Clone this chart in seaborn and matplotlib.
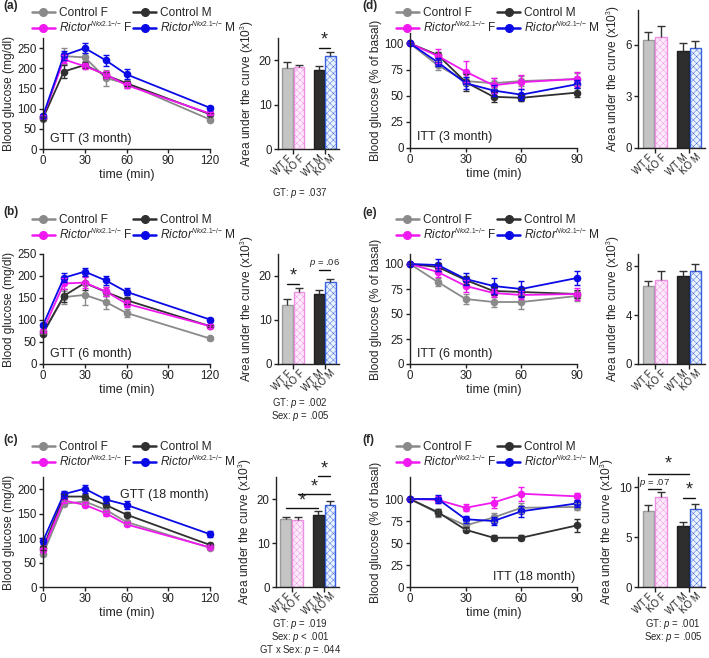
import numpy as np
import pandas as pd
import matplotlib
matplotlib.use("Agg")
import matplotlib.pyplot as plt
from matplotlib.lines import Line2D
import seaborn as sns

try:
    import matplotlib._mathtext as _mt
    _mt.SHRINK_FACTOR = 0.55
except Exception:
    pass

sns.set_theme(style="ticks")
plt.rcParams['font.family'] = ['Liberation Sans', 'DejaVu Sans']
plt.rcParams['mathtext.fontset'] = 'custom'
plt.rcParams['mathtext.rm'] = 'Liberation Sans'
plt.rcParams['mathtext.it'] = 'Liberation Sans:italic'
plt.rcParams['mathtext.bf'] = 'Liberation Sans:bold'
plt.rcParams['axes.linewidth'] = 1.0
plt.rcParams['axes.edgecolor'] = '#222222'
plt.rcParams['xtick.color'] = '#222222'
plt.rcParams['ytick.color'] = '#222222'
plt.rcParams['hatch.linewidth'] = 0.3

# ---------------- data ----------------
groups = ["Control F", "Control M", "KO F", "KO M"]
colors = {"Control F": "#8a8a8a", "Control M": "#303030", "KO F": "#f01af0", "KO M": "#0a0ae6"}
legend_labels = ["Control F", "Control M",
                 r"$\mathit{Rictor}^{\mathit{Nkx2.1{-}/{-}}}$ F",
                 r"$\mathit{Rictor}^{\mathit{Nkx2.1{-}/{-}}}$ M"]

gtt_time = [0, 15, 30, 45, 60, 120]
itt_time = [0, 15, 30, 45, 60, 90]

# GTT 3 month
gtt3_ctrl_f = [75, 230, 227, 176, 162, 73]
gtt3_ctrl_m = [76, 192, 208, 183, 163, 86]
gtt3_ko_f = [80, 222, 205, 185, 158, 88]
gtt3_ko_m = [82, 232, 250, 220, 185, 102]
gtt3_err_ctrl_f = [4, 20, 10, 20, 10, 4]
gtt3_err_ctrl_m = [4, 15, 8, 8, 6, 4]
gtt3_err_ko_f = [4, 10, 8, 8, 8, 4]
gtt3_err_ko_m = [5, 12, 12, 14, 12, 4]

# GTT 6 month
gtt6_ctrl_f = [73, 152, 157, 141, 116, 58]
gtt6_ctrl_m = [69, 155, 184, 164, 145, 86]
gtt6_ko_f = [76, 183, 185, 165, 137, 86]
gtt6_ko_m = [88, 196, 210, 190, 164, 101]
gtt6_err_ctrl_f = [4, 15, 22, 15, 10, 3]
gtt6_err_ctrl_m = [4, 15, 15, 10, 8, 3]
gtt6_err_ko_f = [4, 12, 12, 10, 8, 4]
gtt6_err_ko_m = [5, 10, 9, 10, 8, 4]

# GTT 18 month
gtt18_ctrl_f = [67, 170, 175, 158, 133, 80]
gtt18_ctrl_m = [80, 185, 185, 168, 148, 86]
gtt18_ko_f = [76, 177, 168, 151, 128, 81]
gtt18_ko_m = [94, 190, 201, 179, 168, 108]
gtt18_err_ctrl_f = [4, 5, 5, 5, 4, 3]
gtt18_err_ctrl_m = [4, 5, 5, 5, 5, 3]
gtt18_err_ko_f = [4, 5, 5, 5, 4, 3]
gtt18_err_ko_m = [6, 7, 8, 7, 8, 6]

# ITT 3 month
itt3_ctrl_f = [100, 79, 64, 62, 64, 66]
itt3_ctrl_m = [100, 89, 63, 49, 48, 53]
itt3_ko_f = [100, 88, 73, 60, 63, 66]
itt3_ko_m = [100, 82, 62, 55, 51, 61]
itt3_err_ctrl_f = [0, 4, 4, 5, 5, 6]
itt3_err_ctrl_m = [0, 3, 8, 5, 3, 4]
itt3_err_ko_f = [0, 7, 10, 7, 7, 7]
itt3_err_ko_m = [0, 4, 6, 5, 5, 4]

# ITT 6 month
itt6_ctrl_f = [100, 82, 65, 62, 62, 68]
itt6_ctrl_m = [100, 97, 84, 73, 72, 70]
itt6_ko_f = [100, 92, 78, 71, 69, 70]
itt6_ko_m = [100, 99, 85, 78, 75, 86]
itt6_err_ctrl_f = [0, 4, 5, 5, 7, 5]
itt6_err_ctrl_m = [0, 4, 4, 4, 4, 4]
itt6_err_ko_f = [0, 5, 6, 4, 4, 6]
itt6_err_ko_m = [0, 6, 6, 8, 8, 7]

# ITT 18 month
itt18_ctrl_f = [100, 84, 70, 79, 90, 91]
itt18_ctrl_m = [100, 85, 65, 56, 56, 70]
itt18_ko_f = [100, 99, 90, 96, 106, 103]
itt18_ko_m = [100, 100, 77, 75, 86, 95]
itt18_err_ctrl_f = [0, 5, 4, 5, 6, 4]
itt18_err_ctrl_m = [0, 4, 3, 3, 3, 7]
itt18_err_ko_f = [0, 4, 4, 6, 8, 4]
itt18_err_ko_m = [0, 5, 4, 5, 6, 4]

# AUC bars (order: WT F, KO F, WT M, KO M)
bar_labels = ["WT F", "KO F", "WT M", "KO M"]
auc_a = [18.2, 18.4, 17.9, 21.0]
auc_a_err = [1.3, 0.5, 0.9, 0.8]
auc_b = [13.4, 16.3, 15.9, 18.7]
auc_b_err = [1.3, 0.9, 0.9, 0.6]
auc_c = [15.4, 15.2, 16.4, 18.6]
auc_c_err = [0.6, 0.6, 0.9, 0.9]
auc_d = [6.24, 6.45, 5.65, 5.80]
auc_d_err = [0.46, 0.6, 0.45, 0.4]
auc_e = [6.35, 6.9, 7.18, 7.64]
auc_e_err = [0.42, 0.7, 0.42, 0.56]
auc_f = [7.64, 9.0, 6.06, 7.85]
auc_f_err = [0.56, 0.5, 0.4, 0.45]

stats_a = [r"GT: $\mathit{p}$ = .037"]
stats_b = [r"GT: $\mathit{p}$ = .002", r"Sex: $\mathit{p}$ = .005"]
stats_c = [r"GT: $\mathit{p}$ = .019", r"Sex: $\mathit{p}$ < .001", r"GT x Sex: $\mathit{p}$ = .044"]
stats_f = [r"GT: $\mathit{p}$ = .001", r"Sex: $\mathit{p}$ = .005"]

bar_pos = [0, 1, 2.74, 3.74]
bar_face = ["#c4c4c4", "#fdeafa", "#2e2e2e", "#e8f3fc"]
bar_edge = ["#9a9a9a", "#ec90e4", "#1e1e1e", "#3a5ee0"]
bar_hatchcol = [None, "#f6b8ef", None, "#a9c8f0"]
bar_hatch = [None, "xxxxx", None, "xxxxx"]

W, H = 709, 658
fig = plt.figure(figsize=(W / 100, H / 100), dpi=100)


def rect(l, t, r, b):
    return [l / W, 1 - b / H, (r - l) / W, (b - t) / H]


def fx(px):
    return px / W


def fy(py):
    return 1 - py / H


def line_panel(r, times, series, errs, xlim, xticks, ylim, yticks, ylabel, label_txt, label_xy, label_ha):
    ax = fig.add_axes(rect(*r))
    rows = []
    for g, vals in zip(groups, series):
        for t, v in zip(times, vals):
            rows.append({"time": t, "value": v, "group": g})
    df = pd.DataFrame(rows)
    sns.lineplot(data=df, x="time", y="value", hue="group", hue_order=groups,
                 palette=colors, marker="o", markersize=5.5, markeredgewidth=0,
                 linewidth=1.3, errorbar=None, legend=False, ax=ax, clip_on=False)
    for g, vals, e in zip(groups, series, errs):
        ax.errorbar(times, vals, yerr=e, fmt="none", ecolor=colors[g], elinewidth=1.0,
                    capsize=2.2, capthick=1.0, clip_on=False)
    ax.set_xlim(*xlim)
    ax.set_ylim(*ylim)
    ax.set_xticks(xticks)
    ax.set_yticks(yticks)
    ax.tick_params(labelsize=8.3, length=3, width=1.0, pad=1.5)
    ax.set_xlabel("time (min)", fontsize=9, labelpad=1)
    ax.set_ylabel(ylabel, fontsize=8.6, labelpad=2)
    sns.despine(ax=ax)
    ax.text(label_xy[0], label_xy[1], label_txt, transform=ax.transAxes, fontsize=9,
            ha=label_ha, va="bottom", color="#222222")
    return ax


def add_legend(ax, x_px, y_px):
    handles = [Line2D([], [], color=colors[g], marker="o", markersize=5.5, lw=1.8) for g in groups]
    order = [0, 2, 1, 3]
    leg = ax.legend([handles[i] for i in order], [legend_labels[i] for i in order],
                    ncol=2, loc="upper left", bbox_to_anchor=(fx(x_px), fy(y_px)),
                    bbox_transform=fig.transFigure, frameon=False, fontsize=8.6,
                    handlelength=1.9, handletextpad=0.35, columnspacing=0.05,
                    labelspacing=0.15, borderaxespad=0, borderpad=0)
    return leg


def bar_panel(r, vals, errs, ylim, yticks):
    ax = fig.add_axes(rect(*r))
    df = pd.DataFrame({"pos": bar_pos, "auc": vals, "label": bar_labels})
    sns.barplot(data=df, x="pos", y="auc", hue="label", hue_order=bar_labels,
                palette=dict(zip(bar_labels, bar_face)), native_scale=True,
                width=0.92, dodge=False, errorbar=None, legend=False, ax=ax)
    for p in ax.patches:
        cx = p.get_x() + p.get_width() / 2
        i = int(np.argmin(np.abs(np.array(bar_pos) - cx)))
        p.set_facecolor(bar_face[i])
        p.set_edgecolor(bar_edge[i])
        p.set_linewidth(1.0)
        if bar_hatch[i]:
            p.set_hatch(bar_hatch[i])
            try:
                p.set_hatchcolor(bar_hatchcol[i])
            except Exception:
                pass
    eb = ax.errorbar(bar_pos, vals, yerr=[np.zeros(4), errs], fmt="none",
                     ecolor="#333333", elinewidth=1.0, capsize=3, capthick=1.0)
    eb[1][0].set_visible(False)
    ax.set_xlim(-0.83, 4.5)
    ax.set_ylim(*ylim)
    ax.set_yticks(yticks)
    ax.set_xticks([0.5, 3.24])
    ax.set_xticklabels(["", ""])
    ax.set_xticks(bar_pos, minor=True)
    ax.set_xticklabels(bar_labels, minor=True, rotation=45, ha="right",
                       rotation_mode="anchor", fontsize=7.0)
    ax.tick_params(axis="x", which="minor", length=0, pad=3)
    ax.tick_params(axis="x", which="major", length=3.5, width=1.0)
    ax.tick_params(axis="y", labelsize=8.3, length=3, width=1.0, pad=1.5)
    ax.set_xlabel("")
    ax.set_ylabel(r"Area under the curve (x10$^{3}$)", fontsize=8.6, labelpad=2)
    sns.despine(ax=ax)
    return ax


def sig(ax, x1, x2, y, txt, ty, fs=13, small=False):
    ax.plot([x1, x2], [y, y], color="#111111", lw=1.0, clip_on=False)
    ax.text((x1 + x2) / 2, ty, txt, ha="center", va="center",
            fontsize=(6.8 if small else fs), clip_on=False)


def stats(x_px, y_first_px, lines, step=13):
    for k, s in enumerate(lines):
        fig.text(fx(x_px), fy(y_first_px + k * step), s, ha="center", va="center",
                 fontsize=6.9)


# ---------------- left column: GTT ----------------
ax = line_panel((43, 38, 210, 149), gtt_time, [gtt3_ctrl_f, gtt3_ctrl_m, gtt3_ko_f, gtt3_ko_m],
                [gtt3_err_ctrl_f, gtt3_err_ctrl_m, gtt3_err_ko_f, gtt3_err_ko_m],
                (0, 120), [0, 30, 60, 90, 120], (0, 275), [0, 50, 100, 150, 200, 250],
                "Blood glucose (mg/dl)", "GTT (3 month)", (0.04, 0.04), "left")
add_legend(ax, 32, 7)

ax = line_panel((43, 254, 210, 364), gtt_time, [gtt6_ctrl_f, gtt6_ctrl_m, gtt6_ko_f, gtt6_ko_m],
                [gtt6_err_ctrl_f, gtt6_err_ctrl_m, gtt6_err_ko_f, gtt6_err_ko_m],
                (0, 120), [0, 30, 60, 90, 120], (0, 250), [0, 50, 100, 150, 200, 250],
                "Blood glucose (mg/dl)", "GTT (6 month)", (0.04, 0.04), "left")
add_legend(ax, 32, 214)

ax = line_panel((43, 477, 210, 587), gtt_time, [gtt18_ctrl_f, gtt18_ctrl_m, gtt18_ko_f, gtt18_ko_m],
                [gtt18_err_ctrl_f, gtt18_err_ctrl_m, gtt18_err_ko_f, gtt18_err_ko_m],
                (0, 120), [0, 30, 60, 90, 120], (0, 225), [0, 50, 100, 150, 200],
                "Blood glucose (mg/dl)", "GTT (18 month)", (0.99, 0.78), "right")
add_legend(ax, 32, 441)

# ---------------- right column: ITT ----------------
ax = line_panel((410, 33, 577, 148), itt_time, [itt3_ctrl_f, itt3_ctrl_m, itt3_ko_f, itt3_ko_m],
                [itt3_err_ctrl_f, itt3_err_ctrl_m, itt3_err_ko_f, itt3_err_ko_m],
                (0, 90), [0, 30, 60, 90], (0, 110), [0, 25, 50, 75, 100],
                "Blood glucose (% of basal)", "ITT (3 month)", (0.04, 0.04), "left")
add_legend(ax, 396, 7)

ax = line_panel((410, 254, 577, 364), itt_time, [itt6_ctrl_f, itt6_ctrl_m, itt6_ko_f, itt6_ko_m],
                [itt6_err_ctrl_f, itt6_err_ctrl_m, itt6_err_ko_f, itt6_err_ko_m],
                (0, 90), [0, 30, 60, 90], (0, 110), [0, 25, 50, 75, 100],
                "Blood glucose (% of basal)", "ITT (6 month)", (0.04, 0.04), "left")
add_legend(ax, 396, 214)

ax = line_panel((410, 477, 577, 587), itt_time, [itt18_ctrl_f, itt18_ctrl_m, itt18_ko_f, itt18_ko_m],
                [itt18_err_ctrl_f, itt18_err_ctrl_m, itt18_err_ko_f, itt18_err_ko_m],
                (0, 90), [0, 30, 60, 90], (0, 125), [0, 25, 50, 75, 100],
                "Blood glucose (% of basal)", "ITT (18 month)", (0.99, 0.04), "right")
add_legend(ax, 396, 441)

# ---------------- bar panels ----------------
bx = bar_panel((278, 38, 339, 149), auc_a, auc_a_err, (0, 25), [0, 10, 20])
sig(bx, 2.74, 3.74, 22.8, "*", 24.6)
stats(300, 193, stats_a)

bx = bar_panel((278, 254, 339, 364), auc_b, auc_b_err, (0, 25), [0, 10, 20])
sig(bx, 0, 1, 18.2, "*", 20.0)
sig(bx, 2.74, 3.74, 21.4, r"$\mathit{p}$ = .06", 22.9, small=True)
stats(300, 403, stats_b)

bx = bar_panel((276, 477, 339, 587), auc_c, auc_c_err, (0, 25), [0, 10, 20])
sig(bx, 0, 2.74, 18.0, "*", 19.6)
sig(bx, 1, 3.74, 21.1, "*", 22.8)
sig(bx, 2.74, 3.74, 25.2, "*", 26.9)
stats(300, 624, stats_c)

bx = bar_panel((638, 10, 705, 148), auc_d, auc_d_err, (0, 8), [0, 3, 6])
bx = bar_panel((638, 254, 705, 364), auc_e, auc_e_err, (0, 9), [0, 4, 8])

bx = bar_panel((638, 477, 705, 587), auc_f, auc_f_err, (0, 11), [0, 5, 10])
sig(bx, 0, 1, 9.83, r"$\mathit{p}$ = .07", 10.45, small=True)
sig(bx, 2.74, 3.74, 8.86, "*", 9.7)
sig(bx, 0, 3.2, 11.35, "*", 12.3)
stats(673, 624, stats_f)

# ---------------- panel letters ----------------
for lab, x, y in [("(a)", 3, 6), ("(b)", 3, 212), ("(c)", 3, 440),
                  ("(d)", 362, 6), ("(e)", 362, 213), ("(f)", 362, 440)]:
    fig.text(fx(x), fy(y), lab, fontsize=8.5, fontweight="bold", ha="left", va="center")

fig.savefig("out.png", dpi=100)
